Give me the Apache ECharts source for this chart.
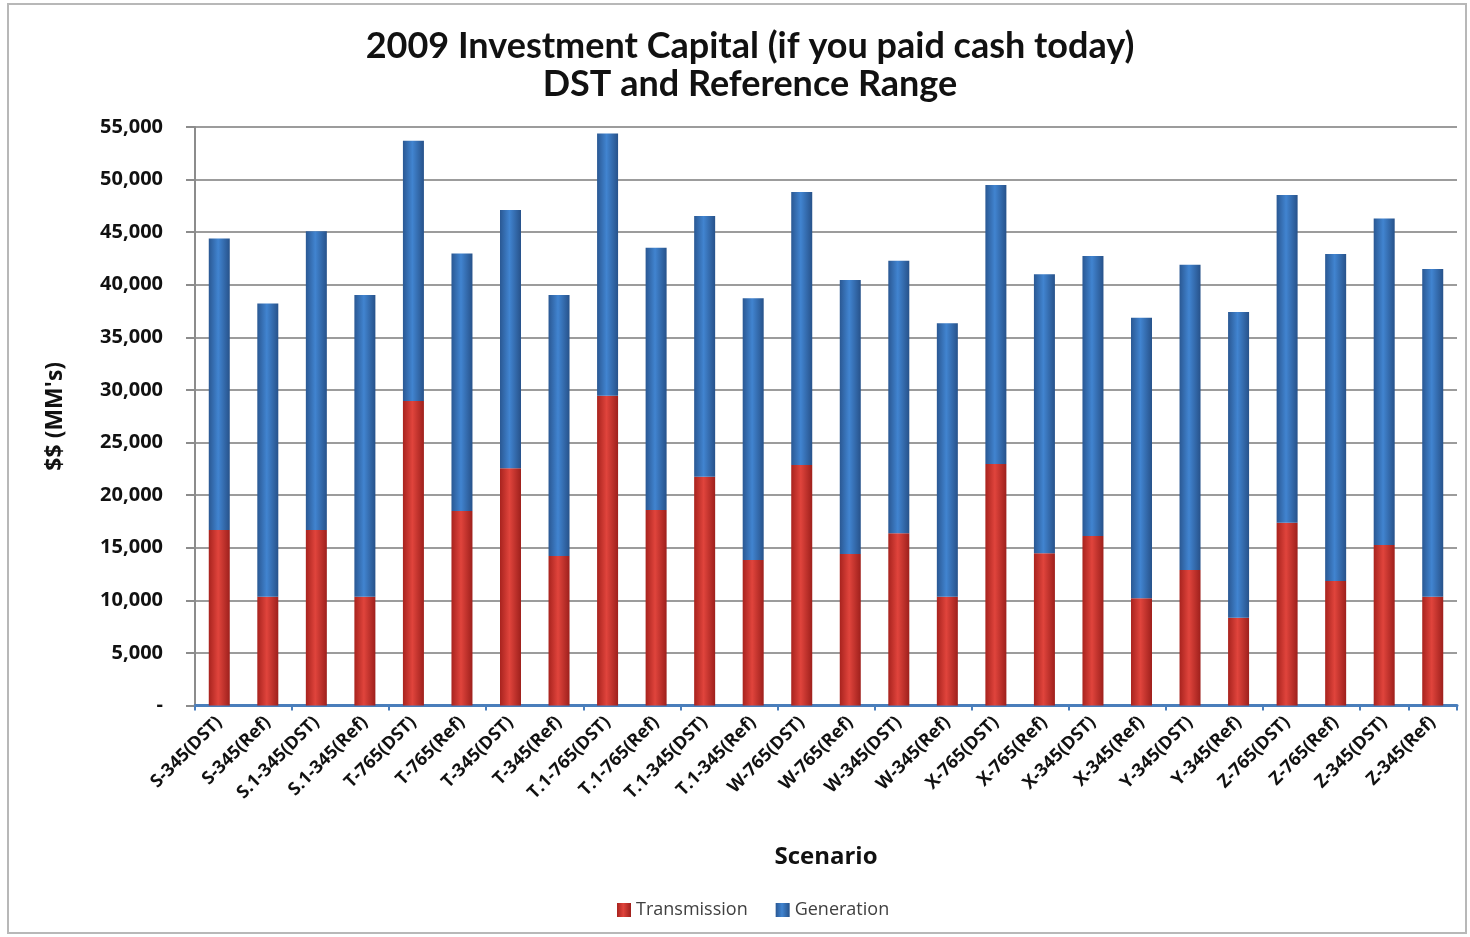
<!DOCTYPE html>
<html>
<head>
<meta charset="utf-8">
<script src="https://cdn.jsdelivr.net/npm/echarts@6/dist/echarts.min.js"></script>
<style>
html,body{margin:0;padding:0;background:#fff;}
#chart{width:1470px;height:937px;}
</style>
</head>
<body>
<div id="chart"></div>
<script>
var categories = ["S-345(DST)","S-345(Ref)","S.1-345(DST)","S.1-345(Ref)","T-765(DST)","T-765(Ref)","T-345(DST)","T-345(Ref)","T.1-765(DST)","T.1-765(Ref)","T.1-345(DST)","T.1-345(Ref)","W-765(DST)","W-765(Ref)","W-345(DST)","W-345(Ref)","X-765(DST)","X-765(Ref)","X-345(DST)","X-345(Ref)","Y-345(DST)","Y-345(Ref)","Z-765(DST)","Z-765(Ref)","Z-345(DST)","Z-345(Ref)"];
var transmission = [16680,10340,16680,10340,28940,18490,22550,14210,29450,18580,21750,13830,22860,14400,16370,10340,22960,14470,16110,10190,12880,8350,17380,11830,15260,10340];
var generation = [27730,27890,28420,28680,24750,24490,24550,24810,24940,24940,24780,24880,25950,26050,25910,25990,26520,26520,26620,26670,29020,29050,31150,31090,31050,31150];
var yTicks = {min:0, max:55000, interval:5000};

var chart = echarts.init(document.getElementById('chart'));
function grad(edge, mid, edge2){
  return new echarts.graphic.LinearGradient(0,0,1,0,[
    {offset:0,color:edge},{offset:0.45,color:mid},{offset:1,color:edge2}
  ]);
}
var FONT = "'Open Sans', sans-serif";
chart.setOption({
  backgroundColor:'#ffffff',
  animation:false,
  graphic:[{type:'rect',shape:{x:8,y:4,width:1458,height:929},style:{fill:'none',stroke:'#b8b8b8',lineWidth:2},silent:true}],
  title:{
    text:'2009 Investment Capital (if you paid cash today)\nDST and Reference Range',
    left:745, textAlign:'center', top:22,
    textStyle:{fontFamily:"Lato, sans-serif",fontWeight:'bold',fontSize:36,lineHeight:38,color:'#111'}
  },
  legend:{
    data:['Transmission','Generation'],
    bottom:13, left:612,
    icon:'rect', itemWidth:14, itemHeight:14, itemGap:28,
    textStyle:{fontFamily:FONT,fontSize:18,color:'#404040'}
  },
  grid:{left:195,right:13,top:127,bottom:231.5,containLabel:false},
  xAxis:{
    type:'category', data:categories,
    name:'Scenario', nameLocation:'middle', nameGap:140,
    nameTextStyle:{fontFamily:FONT,fontWeight:'bold',fontSize:24,color:'#111'},
    axisLine:{lineStyle:{color:'#4a7ebb',width:3}},
    axisTick:{show:true,interval:1,length:5,lineStyle:{color:'#4a7ebb',width:2}},
    axisLabel:{interval:0,rotate:45,margin:14,fontFamily:FONT,fontWeight:'bold',fontSize:18,color:'#111'}
  },
  yAxis:{
    type:'value', min:yTicks.min, max:yTicks.max, interval:yTicks.interval,
    name:"$$ (MM's)", nameLocation:'middle', nameGap:128,
    nameTextStyle:{fontFamily:FONT,fontSize:23,fontWeight:'bold',color:'#111'},
    axisLine:{show:true,lineStyle:{color:'#8c8c8c',width:2}},
    axisTick:{show:true,length:9,lineStyle:{color:'#8c8c8c',width:2}},
    splitLine:{lineStyle:{color:'#9c9c9c',width:2}},
    axisLabel:{margin:32,fontFamily:FONT,fontWeight:'bold',fontSize:20,color:'#111',
      formatter:function(v){return v===0?'-':v.toLocaleString('en-US');}}
  },
  series:[
    {name:'Transmission',type:'bar',stack:'total',data:transmission,barWidth:21,
      itemStyle:{color:grad('#a8231e','#e0443c','#9e201c')}},
    {name:'Generation',type:'bar',stack:'total',data:generation,barWidth:21,
      itemStyle:{color:grad('#2a5893','#4184d0','#27528a')}}
  ]
});
</script>
</body>
</html>
